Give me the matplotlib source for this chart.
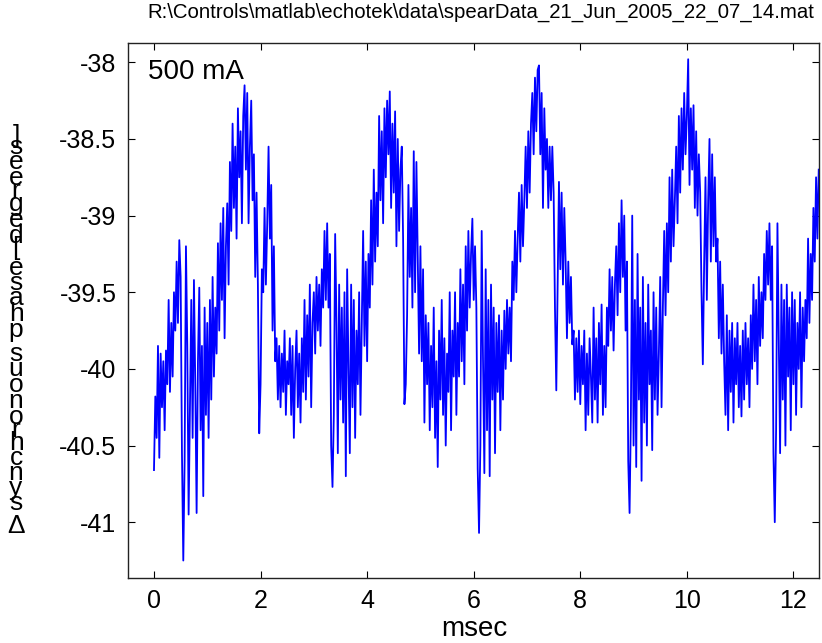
import numpy as np
import matplotlib
matplotlib.use("Agg")
import matplotlib.pyplot as plt
from matplotlib.font_manager import FontProperties

plt.rcParams['font.family'] = ['Liberation Sans', 'DejaVu Sans']
plt.rcParams['axes.unicode_minus'] = False

# Beam phase record, one sample every 25 microseconds
sample_period_ms = 0.025
delta_phase_deg = [
    -40.66, -40.18, -40.45, -39.85, -40.58, -39.90, -40.25, -39.95, -40.40, -39.88,
    -40.10, -39.55, -40.15, -39.70, -40.05, -39.50, -39.75, -39.30, -39.70, -39.16,
    -39.40, -40.55, -41.25, -40.60, -39.20, -39.85, -40.95, -40.25, -39.55, -40.45,
    -39.42, -40.10, -40.94, -39.95, -39.47, -40.40, -39.85, -40.83, -39.60, -40.30,
    -39.70, -40.45, -39.55, -40.20, -39.40, -40.05, -39.60, -39.90, -39.18, -39.75,
    -39.05, -39.55, -38.95, -39.80, -39.20, -38.92, -39.45, -38.65, -39.10, -38.40,
    -38.95, -38.55, -39.15, -38.30, -38.75, -38.45, -39.05, -38.35, -38.15, -38.70,
    -38.20, -39.05, -38.55, -38.25, -38.90, -38.60, -39.40, -38.85, -39.45, -40.42,
    -40.10, -39.35, -39.50, -38.95, -39.45, -39.05, -38.55, -39.15, -38.80, -39.75,
    -39.20, -39.95, -39.80, -40.20, -39.85, -40.25, -39.90, -40.15, -39.75, -40.30,
    -39.95, -40.10, -39.80, -40.30, -39.85, -40.45, -40.00, -39.75, -40.25, -39.90,
    -40.35, -39.80, -40.15, -39.55, -40.20, -39.65, -40.05, -39.45, -40.25, -39.70,
    -39.50, -39.90, -39.40, -39.75, -39.45, -39.85, -39.35, -39.60, -39.10, -39.55,
    -39.05, -39.60, -39.25, -40.50, -40.77, -40.30, -39.12, -39.70, -40.55, -39.45,
    -40.20, -39.60, -40.35, -39.50, -40.70, -39.35, -40.00, -40.55, -39.45, -40.25,
    -39.55, -40.45, -39.75, -40.10, -39.50, -40.30, -39.70, -39.10, -39.85, -39.30,
    -39.95, -39.25, -39.60, -38.90, -39.45, -38.70, -39.30, -38.85, -39.20, -38.35,
    -38.90, -38.45, -39.05, -38.30, -38.75, -38.25, -38.60, -38.19, -38.95, -38.40,
    -38.85, -38.32, -39.20, -38.50, -39.10, -38.70, -38.55, -39.15, -40.23, -40.10,
    -39.65, -38.80, -39.40, -38.95, -39.60, -38.58, -39.50, -38.65, -39.30, -39.90,
    -39.20, -39.95, -39.35, -40.35, -39.65, -40.10, -39.70, -40.40, -39.85, -40.25,
    -39.60, -40.45, -39.95, -40.64, -39.75, -40.20, -39.55, -40.30, -39.80, -40.50,
    -39.90, -40.15, -39.50, -40.40, -39.75, -40.05, -39.50, -40.30, -39.70, -40.05,
    -39.35, -39.95, -39.45, -40.10, -39.20, -39.75, -39.10, -39.60, -39.25, -39.02,
    -39.55, -39.20, -39.60, -40.65, -41.07, -40.50, -39.10, -39.95, -40.68, -39.35,
    -40.40, -39.55, -40.70, -39.45, -40.20, -39.60, -40.55, -39.70, -40.15, -39.65,
    -40.40, -39.75, -40.20, -39.62, -40.00, -39.55, -39.90, -39.60, -39.95, -39.30,
    -39.55, -39.10, -39.50, -39.15, -38.85, -39.30, -38.80, -39.20, -38.90, -38.55,
    -38.95, -38.45, -38.85, -38.40, -38.20, -38.60, -38.10, -38.45, -38.05, -38.02,
    -38.60, -38.20, -38.95, -38.30, -38.70, -38.50, -38.95, -38.55, -38.90, -38.55,
    -38.85, -39.60, -40.14, -39.45, -38.78, -39.35, -38.85, -39.45, -38.95, -39.30,
    -39.80, -39.30, -39.70, -39.40, -39.84, -39.75, -40.20, -39.80, -40.15, -39.75,
    -40.23, -39.85, -40.10, -39.75, -40.40, -39.90, -40.30, -39.80, -40.05, -40.35,
    -39.60, -40.20, -39.80, -40.35, -39.70, -40.10, -39.58, -40.30, -39.85, -40.25,
    -39.60, -39.85, -39.35, -39.75, -39.40, -39.88, -39.45, -39.20, -39.65, -39.05,
    -39.50, -38.90, -39.40, -39.00, -39.75, -39.30, -40.60, -40.94, -40.30, -39.00,
    -40.50, -39.55, -40.64, -39.25, -40.20, -39.60, -40.73, -39.40, -40.35, -39.70,
    -40.50, -39.45, -40.10, -39.75, -40.53, -39.50, -40.20, -39.60, -40.30, -39.90,
    -39.40, -40.25, -39.60, -39.10, -39.65, -39.05, -39.50, -38.75, -39.30, -38.70,
    -39.20, -38.90, -38.55, -39.05, -38.35, -38.85, -38.30, -38.70, -38.20, -38.60,
    -38.35, -37.98, -38.80, -38.30, -38.70, -38.28, -38.95, -38.45, -39.00, -38.60,
    -38.85, -39.50, -39.97, -39.30, -38.75, -39.55, -38.90, -38.50, -39.30, -38.60,
    -39.20, -38.75, -39.30, -39.15, -39.80, -39.30, -39.90, -39.45, -39.95, -40.30,
    -39.65, -40.40, -39.75, -40.15, -39.70, -40.35, -39.80, -40.10, -39.70, -40.25,
    -39.85, -40.31, -39.75, -40.20, -39.70, -40.10, -39.80, -40.25, -39.65, -40.00,
    -39.45, -39.95, -39.55, -40.10, -39.40, -39.85, -39.50, -39.80, -39.25, -39.55,
    -39.10, -39.45, -39.05, -39.55, -39.20, -40.55, -41.00, -40.40, -39.05, -39.80,
    -40.55, -39.45, -40.20, -39.55, -40.50, -39.45, -40.05, -39.60, -40.40, -39.50,
    -40.10, -39.55, -40.30, -39.70, -40.00, -39.50, -40.25, -39.60, -39.95, -39.55,
    -39.80, -39.15, -39.70, -39.25, -39.55, -38.95, -39.30, -38.75, -39.15, -38.70,
]
t_ms = np.arange(len(delta_phase_deg)) * sample_period_ms

x_ticks = [0, 2, 4, 6, 8, 10, 12]
x_tick_labels = ['0', '2', '4', '6', '8', '10', '12']
y_ticks = [-41, -40.5, -40, -39.5, -39, -38.5, -38]
y_tick_labels = ['-41', '-40.5', '-40', '-39.5', '-39', '-38.5', '-38']

title_text = r'R:\Controls\matlab\echotek\data\spearData_21_Jun_2005_22_07_14.mat'
x_label = 'msec'
y_label = 'Δ synchronous phase [degrees]'
beam_current = '500 mA'

W, H = 822, 643
fig = plt.figure(figsize=(W / 100, H / 100), dpi=100)
ax_left, ax_right, ax_top, ax_bottom = 127.5, 819.0, 43.0, 578.0
ax = fig.add_axes([ax_left / W, 1 - ax_bottom / H,
                   (ax_right - ax_left) / W, (ax_bottom - ax_top) / H])

ax.plot(t_ms, delta_phase_deg, color='#0000ff', linewidth=1.3)

ax.set_xlim(-0.497, 12.48)
ax.set_ylim(-41.364, -37.874)
ax.set_xticks(x_ticks)
ax.set_xticklabels(x_tick_labels)
ax.set_yticks(y_ticks)
ax.set_yticklabels(y_tick_labels)
ax.tick_params(direction='in', top=True, right=True, length=5, width=0.8,
               labelsize=18, pad=8, colors='black')
for sp in ax.spines.values():
    sp.set_linewidth(1.0)
    sp.set_color('#222222')

ax.text(0.030, 0.945, beam_current, transform=ax.transAxes, fontsize=20,
        ha='left', va='center')

fig.text(481 / W, 1 - 12 / H, title_text, ha='center', va='center', fontsize=14.7)
fig.text(474 / W, 1 - 629 / H, x_label, ha='center', va='center', fontsize=20)

# Y label: upright glyphs stacked along the vertical axis
label_size = 19
fp = FontProperties(family=['Liberation Sans', 'DejaVu Sans'], size=label_size)
renderer = fig.canvas.get_renderer()


def text_width(s):
    w, _, _ = renderer.get_text_width_height_descent(s, fp, ismath=False)
    return w


centers = []
for i, ch in enumerate(y_label):
    if ch == ' ':
        continue
    centers.append((text_width(y_label[:i + 1]) - text_width(ch) / 2, ch))

c0, c1 = centers[0][0], centers[-1][0]
base_bottom, base_top = 533.0, 143.0
for c, ch in centers:
    py = base_bottom + (c - c0) / (c1 - c0) * (base_top - base_bottom)
    fig.text(16 / W, 1 - py / H, ch, ha='center', va='baseline',
             fontsize=label_size, family=['Liberation Sans', 'DejaVu Sans'])

fig.savefig('out.png', dpi=100)
